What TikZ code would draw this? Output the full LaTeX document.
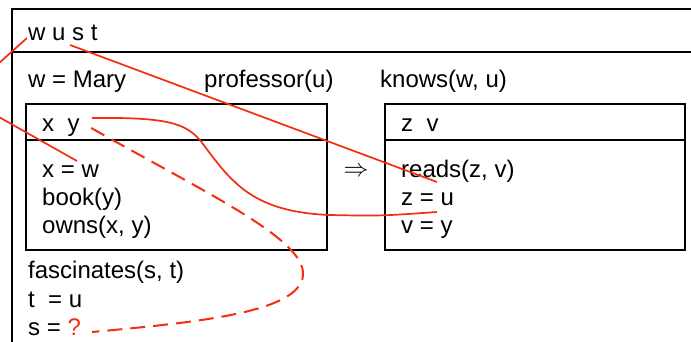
\documentclass[tikz,border=0pt]{standalone}
\usepackage{fontspec}
\setmainfont{Liberation Sans}
\definecolor{linkred}{RGB}{245,45,15}
\begin{document}
\begin{tikzpicture}[x=1pt,y=-1pt,
  txt/.style={inner sep=0pt, anchor=base west, font=\fontsize{24}{28}\selectfont},
  frame/.style={draw=black, line width=1.7pt},
  drsbox/.style={draw=black, line width=1.4pt},
  link/.style={draw=linkred, line width=1.7pt},
  dashlink/.style={link, line width=2pt, dash pattern=on 15pt off 8pt}]
\useasboundingbox (0,0) rectangle (691,341);
\clip (0,0) rectangle (691,341);

% outer DRS (runs past the right and bottom edges)
\draw[frame] (12,9) rectangle (730,400);
\draw[frame] (12,52) -- (730,52);

% antecedent box
\draw[drsbox] (26,104) rectangle (327,250);
\draw[drsbox] (26,140) -- (327,140);
% consequent box
\draw[drsbox] (385,104) rectangle (685,250);
\draw[drsbox] (385,140) -- (685,140);

% outer universe and conditions
\node[txt] (univ) at (28,40) {w u s t};
\node[txt] (mary) at (28,87) {w = Mary};
\node[txt] (prof) at (204,87) {professor(u)};
\node[txt] (knows) at (380,87) {knows(w, u)};
\node[txt] (fasc) at (28,278) {fascinates(s, t)};
\node[txt] (teq) at (28,307) {t\ \ = u};
\node[txt] (seq) at (28,335) {s = \textcolor{linkred}{?}};

% antecedent contents
\node[txt] (xy) at (42,131) {x\ \ y};
\node[txt] (xeq) at (42,177) {x = w};
\node[txt] (book) at (42,205) {book(y)};
\node[txt] (owns) at (42,233) {owns(x, y)};

% implication arrow
\node[inner sep=0pt, font=\fontsize{26}{28}\selectfont] (impl) at (356,172) {$\Rightarrow$};

% consequent contents
\node[txt] (zv) at (401,131) {z\ \ v};
\node[txt] (reads) at (401,177) {reads(z, v)};
\node[txt] (zeq) at (401,205) {z = u};
\node[txt] (veq) at (401,233) {v = y};

% link end points
\coordinate (wRef) at (27,38);
\coordinate (sRef) at (70,45);
\coordinate (yRef) at (92,118);
\coordinate (yDash) at (86,125);
\coordinate (xwRef) at (77,161);
\coordinate (zuRef) at (437,182);
\coordinate (vyRef) at (437,212);
\coordinate (qRef) at (92,332);

% resolution links
\draw[link] (wRef) -- (-12,73) .. controls (-40,98) and (-30,108) .. (-10,112) -- (xwRef);
\draw[link] (sRef) -- (zuRef);
\draw[link] (yRef) .. controls (170,117) and (185,124) .. (200,140)
  .. controls (230,180) and (250,212) .. (330,215)
  .. controls (380,216) .. (vyRef);
\draw[dashlink, dash phase=-6pt] (yDash) .. controls (200,190) and (300,236) .. (303,272)
  .. controls (306,312) and (200,322) .. (qRef);
\end{tikzpicture}
\end{document}
